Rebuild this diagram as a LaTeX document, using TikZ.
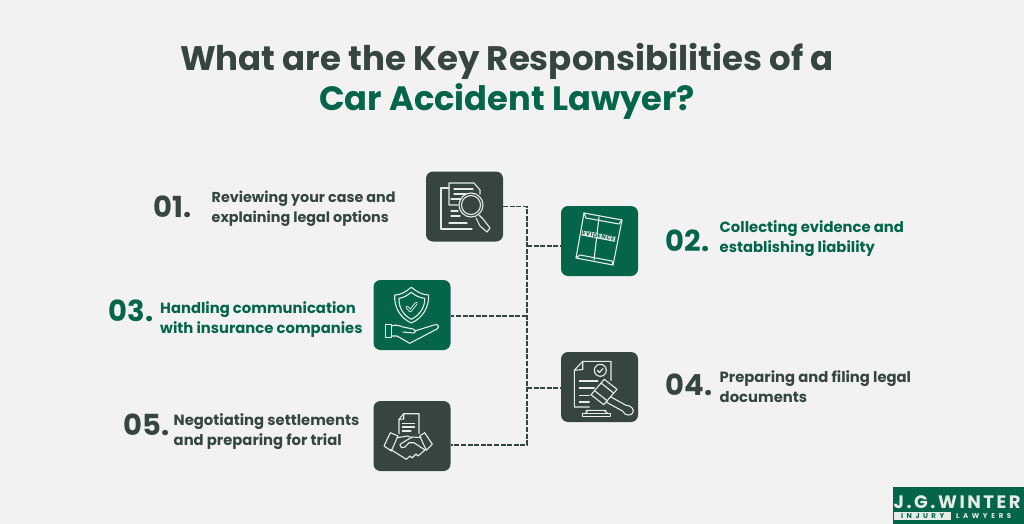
\documentclass[tikz,border=0pt]{standalone}
\usepackage{fontspec}
\setmainfont{Poppins}
\definecolor{pagegray}{HTML}{F2F2F2}
\definecolor{darkslate}{HTML}{36463F}
\definecolor{deepgreen}{HTML}{04654B}
\definecolor{iconline}{HTML}{E6ECE8}
\tikzset{
  iconbox/.style={rounded corners=7pt,minimum width=77pt,minimum height=70pt,inner sep=0pt},
  link/.style={darkslate,line width=1.9pt,dash pattern=on 5pt off 1.6pt},
  icon/.style={iconline,line width=1.1pt,line join=round,line cap=round},
  num/.style={font=\fontsize{29}{29}\selectfont\bfseries,anchor=west,inner sep=0pt},
  desc/.style={font=\fontsize{14.8}{20}\selectfont\bfseries,anchor=west,align=left,inner sep=0pt},
}
\begin{document}
\begin{tikzpicture}[x=1pt,y=-1pt]
  \useasboundingbox[fill=pagegray] (0,0) rectangle (1024,524);
  % title
  \node[font=\fontsize{34}{40}\selectfont\bfseries,darkslate,align=center] (title) at (507,61.5) {What are the Key Responsibilities of a};
  \node[font=\fontsize{33.7}{40}\selectfont\bfseries,deepgreen] (subtitle) at (507,101.5) {Car Accident Lawyer?};
  % boxes
  \node[iconbox,fill=darkslate] (review) at (464.5,206.5) {};
  \node[iconbox,fill=deepgreen] (evidence) at (599.5,241) {};
  \node[iconbox,fill=deepgreen] (shield) at (412,315) {};
  \node[iconbox,fill=darkslate] (filing) at (599.5,387) {};
  \node[iconbox,fill=darkslate] (settle) at (412,436) {};
  % connectors
  \coordinate (jtop) at (527,206.5);
  \coordinate (jevidence) at (527,246);
  \coordinate (jshield) at (527,316);
  \coordinate (jfiling) at (527,388);
  \coordinate (jbottom) at (527,445);
  \draw[link] (review.east) -- (jtop) -- (jbottom) -- (jbottom -| settle.east);
  \draw[link] (jevidence) -- (jevidence -| evidence.west);
  \draw[link] (jshield) -- (jshield -| shield.east);
  \draw[link] (jfiling) -- (jfiling -| filing.west);
  % labels
  \node[num,darkslate] (n1) at (153.5,207) {01.};
  \node[desc,darkslate,font=\fontsize{14.35}{20}\selectfont\bfseries] (t1) at (211.5,208.5) {Reviewing your case and\\explaining legal options};
  \node[num,deepgreen] (n2) at (665.5,241) {02.};
  \node[desc,deepgreen] (t2) at (719.5,239) {Collecting evidence and\\establishing liability};
  \node[num,deepgreen] (n3) at (108.5,311) {03.};
  \node[desc,deepgreen] (t3) at (160,320) {Handling communication\\with insurance companies};
  \node[num,darkslate] (n4) at (665.5,385) {04.};
  \node[desc,darkslate] (t4) at (719.5,387) {Preparing and filing legal\\documents};
  \node[num,darkslate] (n5) at (123.5,425) {05.};
  \node[desc,darkslate] (t5) at (173.5,432) {Negotiating settlements\\and preparing for trial};
  % review icon
  \draw[icon] (449,188) -- (441,188) -- (441,229) -- (472,229);
  \draw[icon] (458,205) -- (449,205) -- (449,183) -- (474,183) -- (480,190) -- (480,194);
  \draw[icon] (449,223) -- (467,223);
  \draw[icon] (454,189) -- (473,189) (454,194) -- (466,194) (451,199) -- (461,199) (451,211) -- (458,211) (451,216) -- (460,216);
  \draw[icon] (471,205) circle (12pt) (471,205) circle (9.5pt);
  \draw[icon] (479,215) -- (483,219) -- (490,228) -- (487,232) -- (480,226) -- (476,218);
  % evidence icon
  \draw[icon] (584,213) -- (622,220) -- (613,265) -- (576,258) -- cycle;
  \draw[icon] (584,213) -- (586,218) -- (619,224) -- (622,220);
  \draw[icon] (576,258) -- (580,255) -- (612,261) -- (613,265);
  \draw[icon] (599,217) -- (594,260);
  \node[fill=iconline,inner sep=0.5pt,rotate=-11,text=deepgreen,font=\fontsize{6}{6}\selectfont\bfseries\addfontfeature{LetterSpace=8}] (stamp) at (598.5,236) {EVIDENCE};
  % shield icon
  \draw[icon] (411.3,287.3) .. controls (417,292) and (423,295) .. (428.7,295) .. controls (429,307) and (423,318) .. (411.3,323) .. controls (400,318) and (394,307) .. (394.7,295) .. controls (400,295) and (406,292) .. (411.3,287.3) -- cycle;
  \draw[icon] (411.3,292.3) .. controls (415,295.5) and (420,298) .. (424.7,298.3) .. controls (425,307) and (420,315) .. (411.3,319.3) .. controls (403,315) and (398.5,307) .. (399,298.3) .. controls (403,298) and (407,295.5) .. (411.3,292.3) -- cycle;
  \draw[icon,line width=3pt] (407,307.3) -- (410.3,310.7) -- (416.3,303.3);
  \draw[deepgreen,line width=1.2pt,line cap=round,line join=round] (407,307.3) -- (410.3,310.7) -- (416.3,303.3);
  \draw[icon] (385.3,324.3) rectangle (391.3,337.3);
  \draw[icon] (391.3,326) .. controls (396,324) and (400,326) .. (403,327) -- (413,329) .. controls (416,330) and (416,333) .. (413,333) -- (403,332);
  \draw[icon] (391.3,336) -- (397,336) -- (409.7,343.3) -- (437,329) .. controls (440,327) and (438,323) .. (434,325) -- (414.7,331);
  % filing icon
  \draw[icon] (589.3,407) -- (574.3,407) -- (574.3,370.3) -- (582.7,361.3) -- (611,361.3) -- (611,380.3);
  \draw[icon] (574.3,370.3) -- (582.7,369.5) -- (582.7,361.3);
  \draw[icon] (600.3,370.3) circle (6pt);
  \draw[icon] (597.5,370.5) -- (599.5,372.5) -- (603,368.5);
  \draw[icon] (579.3,381) -- (597.7,381) (579.3,388) -- (594.3,388) (579.3,395.3) -- (589.3,395.3) (579.3,402) -- (589.3,402);
  \draw[icon] (604.3,379.3) -- (617,389.3) -- (603.7,404.7) -- (591,394.7) -- cycle;
  \draw[icon] (601,383) -- (613.5,393) (595,391) -- (607.5,401);
  \draw[icon] (611,397) -- (626,405.3) .. controls (631,405) and (635,410) .. (632.7,413) .. controls (631,416) and (625,416) .. (622.5,411) -- (606,402);
  \draw[icon] (586,410.3) -- (606,410.3) (588,410.3) -- (585,413.7) (604,410.3) -- (608,413.7);
  \draw[icon] (582.7,413.7) rectangle (610.3,416.3);
  % settlement icon
  \draw[icon] (399,433.7) -- (399,419.3) -- (403.7,413.7) -- (419,413.7) -- (419,433.7);
  \draw[icon] (399,419.3) -- (403.7,419) -- (403.7,413.7);
  \draw[icon] (402.3,423.3) -- (414.5,423.3) (402.3,427) -- (414.5,427) (402.3,431) -- (411,431);
  \draw[icon] (390.3,432.7) -- (398,436) -- (391.3,451) -- (384,446) -- cycle;
  \draw[icon] (424.7,432.7) -- (432.3,444.3) -- (426.3,450.3) -- (419.7,436) -- cycle;
  \draw[icon] (397,437.7) -- (408,436) -- (412,438);
  \draw[icon] (421,437.5) -- (412,437) -- (400,444.3) .. controls (400,448) and (403,448.5) .. (405,447) -- (409,442.7) -- (414,442.7) -- (425,450);
  \draw[icon] (390.3,449.3) -- (406.3,459.3) -- (410,456) -- (412,458) -- (416,454) -- (418,456) -- (425,450);
  % logo
  \node[fill=deepgreen,minimum width=131pt,minimum height=37pt,inner sep=0pt,anchor=north west] (logo) at (893,487) {};
  \node[anchor=base west,inner sep=0pt,text=iconline,font=\fontsize{18}{18}\selectfont\bfseries\addfontfeature{LetterSpace=14}] (brand) at (893.5,508) {J.G.WINTER};
  \node[anchor=north west,fill=iconline,minimum width=57pt,minimum height=7.5pt,inner sep=0pt,text=deepgreen,font=\fontsize{7}{7}\selectfont\bfseries\addfontfeature{LetterSpace=50}] (injury) at (894,512) {INJURY};
  \node[anchor=west,inner sep=0pt,text=iconline,font=\fontsize{7}{7}\selectfont\bfseries\addfontfeature{LetterSpace=52}] (lawyers) at (956,515.7) {LAWYERS};
\end{tikzpicture}
\end{document}
